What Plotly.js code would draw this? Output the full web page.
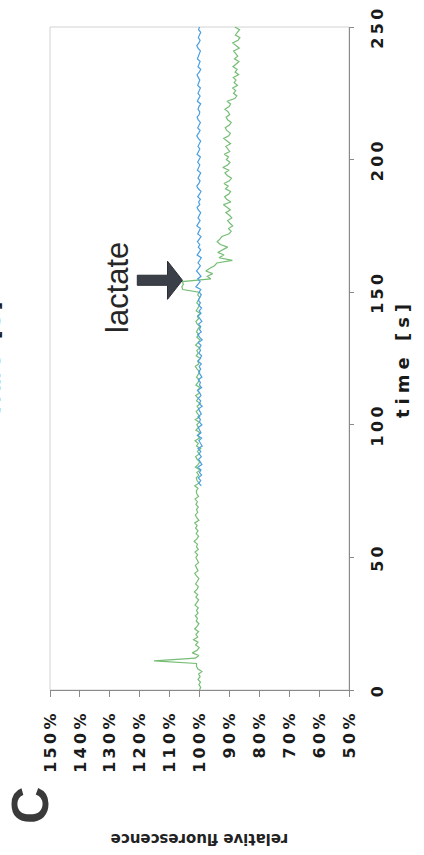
<!DOCTYPE html>
<html>
<head>
<meta charset="utf-8">
<script src="https://cdn.plot.ly/plotly-3.0.1.min.js"></script>
<style>
  html, body { margin: 0; padding: 0; width: 424px; height: 855px; overflow: hidden; background: #fff; }
  /* the chart is laid out landscape and turned a quarter turn counter-clockwise */
  #frame { position: absolute; left: 0; top: 0; width: 855px; height: 424px;
           transform-origin: 0 0; transform: translate(0, 855px) rotate(-90deg); }
  #chart { width: 855px; height: 424px; }
  #chart .xtick text, #chart .ytick text { letter-spacing: 3.3px; }
  #chart .xtitle { letter-spacing: 5px; }
  #chart g.annotation[data-index="2"] text { letter-spacing: 5px; }
</style>
</head>
<body>
<div id="frame"><div id="chart"></div></div>
<script>
// relative fluorescence (%) sampled once per second
const greenStart = 0;
const greenPct = [
  100.0, 99.6, 100.2, 99.7, 100.5, 99.8, 100.3, 99.2, 100.6, 101.0,
  101.0, 115.2, 101.4, 100.2, 102.4, 100.8, 100.1, 101.3, 100.5, 102.0,
  100.6, 101.2, 100.3, 101.6, 100.8, 100.2, 101.1, 100.7, 101.4, 100.5,
  101.0, 100.4, 101.5, 100.9, 100.3, 101.2, 100.6, 101.7, 100.8, 100.4,
  101.3, 100.7, 100.2, 101.0, 101.6, 100.5, 100.9, 101.4, 100.3, 100.8,
  101.2, 100.6, 101.5, 100.4, 101.0, 100.7, 101.8, 100.9, 100.3, 101.1,
  100.5, 101.3, 100.8, 101.6, 100.2, 100.9, 101.4, 100.6, 101.0, 100.4,
  101.2, 100.7, 101.5, 100.3, 100.9, 101.1, 100.5, 101.6, 100.2, 100.8,
  101.1, 100.2, 100.9, 99.8, 101.4, 100.5, 99.9, 100.8, 101.3, 100.1,
  100.7, 99.6, 101.0, 100.4, 101.5, 100.0, 100.6, 99.8, 101.2, 100.3,
  100.9, 100.1, 101.4, 99.9, 100.5, 101.1, 100.2, 100.8, 99.7, 101.0,
  100.4, 101.3, 100.0, 100.7, 99.8, 101.2, 100.5, 100.1, 101.0, 100.3,
  99.9, 100.8, 101.4, 100.2, 100.6, 99.7, 101.1, 100.4, 100.9, 100.0,
  101.3, 100.5, 99.8, 100.9, 100.2, 101.0, 100.6, 99.9, 100.8, 101.2,
  100.3, 100.7, 99.8, 101.1, 100.4, 100.0, 100.9, 100.5, 99.9, 100.6,
  100.2, 105.6, 105.9, 105.4, 105.7, 96.2, 97.4, 95.6, 97.9, 96.5,
  95.0, 94.2, 89.0, 93.5, 91.8, 93.9, 92.4, 90.6, 93.0, 94.1,
  93.2, 92.5, 90.1, 89.4, 90.3, 88.9, 89.8, 90.6, 89.2, 90.0,
  91.2, 89.7, 90.8, 92.0, 89.5, 90.9, 91.6, 90.2, 89.6, 91.3,
  90.4, 91.8, 90.0, 89.3, 90.7, 91.5, 90.1, 92.2, 90.6, 89.8,
  91.0, 90.3, 91.7, 89.9, 90.5, 91.2, 89.6, 90.8, 91.9, 90.2,
  89.7, 90.9, 91.4, 90.0, 89.4, 90.6, 91.1, 89.9, 90.4, 91.5,
  90.1, 89.6, 90.8, 88.2, 87.5, 88.6, 87.9, 88.9, 87.3, 88.4,
  87.8, 88.7, 86.9, 88.1, 87.4, 88.8, 87.6, 86.8, 88.3, 87.2,
  87.9, 88.6, 86.7, 87.8, 88.9, 87.1, 86.5, 88.0, 87.4, 86.6, 88.2
];

const blueStart = 77;
const bluePct = [
  99.4, 100.2, 99.6,
  100.4, 99.3, 100.0, 99.5, 100.6, 99.2, 99.9, 100.3, 99.4, 100.1,
  99.6, 100.5, 99.1, 99.8, 100.2, 99.3, 100.7, 99.5, 99.9, 100.4,
  99.2, 100.0, 99.7, 100.5, 99.4, 99.8, 100.3, 99.1, 100.1, 99.6,
  100.4, 99.5, 99.9, 100.6, 99.3, 100.0, 99.7, 100.4, 99.2, 99.8,
  100.3, 99.6, 100.1, 99.4, 100.5, 99.8, 99.3, 100.2, 99.7, 100.0,
  99.5, 100.4, 99.1, 99.9, 100.6, 99.4, 100.0, 99.6, 100.3, 99.2,
  99.8, 100.5, 99.5, 100.1, 99.3, 100.2, 99.7, 100.4, 99.9, 99.4,
  100.1, 99.6, 101.2, 100.4, 99.8, 100.6, 99.5, 100.2, 101.0, 100.3,
  99.7, 100.5, 100.0, 99.4, 100.8, 100.1, 99.6, 100.4, 99.9, 100.7,
  100.2, 99.5, 100.6, 100.0, 99.7, 100.9, 100.3, 99.8, 100.5, 100.1,
  99.6, 100.4, 100.8, 99.9, 100.3, 99.7, 100.6, 100.0, 99.5, 100.4,
  100.9, 100.2, 99.8, 100.5, 100.1, 99.6, 100.7, 100.3, 99.9, 100.6,
  100.0, 99.7, 100.8, 100.2, 99.9, 100.5, 100.1, 99.6, 100.4, 100.9,
  100.3, 99.8, 100.6, 100.0, 99.7, 100.4, 100.8, 100.1, 99.9, 100.5,
  100.2, 99.6, 100.7, 100.3, 99.8, 100.5, 100.0, 99.7, 100.6, 100.2,
  99.9, 100.4, 100.8, 100.1, 99.6, 100.5, 100.2, 99.8, 100.7, 100.3,
  100.0, 99.7, 100.5, 100.9, 100.2, 99.8, 100.4, 100.1, 99.6, 100.3, 100.0
];

const timeTicks = [0, 50, 100, 150, 200, 250];
const timeLabels = ['0', '50', '100', '150', '200', '250'];
const pctTicks = [50, 60, 70, 80, 90, 100, 110, 120, 130, 140, 150];
const pctLabels = ['50%', '60%', '70%', '80%', '90%', '100%', '110%', '120%', '130%', '140%', '150%'];

function secondsFrom(start, n) {
  const t = [];
  for (let i = 0; i < n; i++) t.push(start + i);
  return t;
}

const traces = [
  { x: secondsFrom(greenStart, greenPct.length), y: greenPct, type: 'scatter', mode: 'lines',
    line: { color: '#76bd76', width: 1.2 }, hoverinfo: 'skip' },
  { x: secondsFrom(blueStart, bluePct.length), y: bluePct, type: 'scatter', mode: 'lines',
    line: { color: '#4a9fe2', width: 1.2 }, hoverinfo: 'skip' }
];

// block arrow pointing at the lactate addition
const tip = { t: 154.5, pct: 105.7 };
const headLen = 5.0, headHalf = 7.2, shaftHalf = 1.9, shaftLen = 10.1;
const arrowPath = [
  'M', tip.t, ',', tip.pct,
  'L', tip.t + headHalf, ',', tip.pct + headLen,
  'L', tip.t + shaftHalf, ',', tip.pct + headLen,
  'L', tip.t + shaftHalf, ',', tip.pct + headLen + shaftLen,
  'L', tip.t - shaftHalf, ',', tip.pct + headLen + shaftLen,
  'L', tip.t - shaftHalf, ',', tip.pct + headLen,
  'L', tip.t - headHalf, ',', tip.pct + headLen, 'Z'
].join(' ');

const tickFont = { family: 'DejaVu Sans', size: 16, color: '#1a1a1a', weight: 'bold' };
const axisGrey = '#8a8a8a';

const layout = {
  width: 855, height: 424,
  margin: { l: 165, r: 27, t: 50, b: 75 },
  paper_bgcolor: '#ffffff', plot_bgcolor: '#ffffff',
  showlegend: false,
  xaxis: {
    range: [0, 250], tickvals: timeTicks, ticktext: timeLabels,
    showgrid: false, zeroline: false, showline: true, linecolor: axisGrey, linewidth: 1,
    ticks: 'outside', ticklen: 4, tickcolor: axisGrey, tickfont: tickFont, ticklabelstandoff: 10,
    title: { text: 'time [s]', standoff: 10,
             font: { family: 'DejaVu Sans', size: 18, color: '#1a1a1a', weight: 'bold' } }
  },
  yaxis: {
    range: [50, 150], tickvals: pctTicks, ticktext: pctLabels,
    showgrid: false, zeroline: false, showline: true, linecolor: axisGrey, linewidth: 1,
    ticks: 'outside', ticklen: 6, tickcolor: axisGrey, tickfont: tickFont, ticklabelstandoff: 10,
    title: { text: 'relative fluorescence', standoff: 70,
             font: { family: 'DejaVu Sans', size: 15, color: '#222222', weight: 'bold' } }
  },
  shapes: [
    { type: 'rect', xref: 'paper', yref: 'paper', x0: 0, x1: 1, y0: 0, y1: 1,
      line: { color: '#d2d2d2', width: 1 }, layer: 'below' },
    { type: 'path', xref: 'x', yref: 'y', path: arrowPath,
      fillcolor: '#3b3f47', line: { color: '#2c2f35', width: 1 } }
  ],
  annotations: [
    { text: 'lactate', xref: 'x', yref: 'y', x: 151.7, y: 127.5, showarrow: false,
      xanchor: 'center', yanchor: 'middle',
      font: { family: 'Liberation Sans, Arial', size: 31, color: '#262626' } },
    { text: 'C', xref: 'paper', yref: 'paper', x: -0.174, y: 1.067, showarrow: false,
      xanchor: 'center', yanchor: 'middle',
      font: { family: 'Liberation Sans Narrow, Liberation Sans', size: 52, color: '#3a3a3a', weight: 'bold' } },
    { text: 'time [s]', xref: 'paper', yref: 'paper', x: 0.503, y: 1.146, showarrow: false,
      xanchor: 'center', yanchor: 'bottom',
      font: { family: 'DejaVu Sans', size: 18, color: '#1a1a1a', weight: 'bold' } }
  ]
};

Plotly.newPlot('chart', traces, layout, { staticPlot: true, displayModeBar: false });
</script>
</body>
</html>
